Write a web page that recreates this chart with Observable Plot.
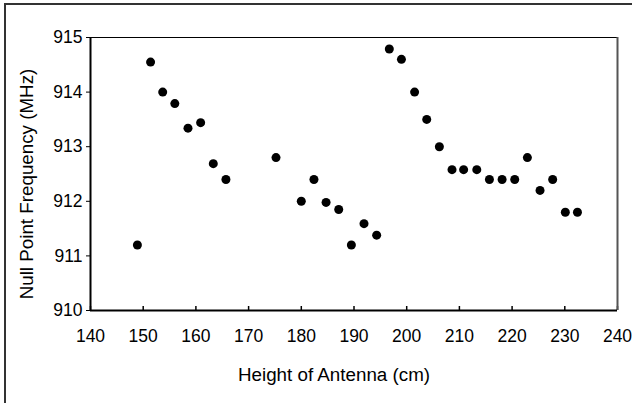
<!DOCTYPE html>
<html>
<head>
<meta charset="utf-8">
<script src="https://cdn.jsdelivr.net/npm/d3@7"></script>
<script src="https://cdn.jsdelivr.net/npm/@observablehq/plot@0.6"></script>
<style>
  html, body { margin: 0; padding: 0; background: #fff; }
  #wrap { position: relative; width: 632px; height: 403px; overflow: hidden; }
  #border { position: absolute; left: 4px; top: 3px; right: -10px; bottom: -10px;
            border-left: 2px solid #333; border-top: 2px solid #333; pointer-events: none; }
  svg { font-family: Arial, "Liberation Sans", sans-serif; }
</style>
</head>
<body>
<div id="wrap"><div id="border"></div></div>
<script>
const heights = [148.9, 151.4, 153.7, 156.0, 158.5, 160.9, 163.3, 165.7, 175.2, 180.0, 182.4, 184.7, 187.1, 189.5, 191.9, 194.3, 196.7, 199.0, 201.5, 203.8, 206.2, 208.6, 210.8, 213.3, 215.7, 218.1, 220.5, 222.9, 225.3, 227.7, 230.1, 232.4];
const freqs = [911.2, 914.55, 914.0, 913.79, 913.34, 913.44, 912.69, 912.40, 912.80, 912.0, 912.40, 911.98, 911.85, 911.2, 911.59, 911.38, 914.79, 914.6, 914.0, 913.5, 913.0, 912.58, 912.58, 912.58, 912.40, 912.4, 912.4, 912.8, 912.2, 912.4, 911.8, 911.8];
const xTicks = [140, 150, 160, 170, 180, 190, 200, 210, 220, 230, 240];
const yTicks = [910, 911, 912, 913, 914, 915];
const xDomain = [140, 240];
const yDomain = [910, 915];
const xTitle = "Height of Antenna (cm)";
const yTitle = "Null Point Frequency (MHz)";

const data = heights.map((h, i) => ({h, f: freqs[i]}));

const chart = Plot.plot({
  width: 632,
  height: 403,
  marginLeft: 90,
  marginRight: 15,
  marginTop: 37,
  marginBottom: 93,
  style: {fontFamily: "Arial, 'Liberation Sans', sans-serif", fontSize: "17.5px", color: "#000", background: "#fff"},
  x: {domain: xDomain},
  y: {domain: yDomain},
  marks: [
    Plot.axisY(yTicks, {tickSize: 4, tickPadding: 4, tickFormat: d => String(d), label: null, fontSize: 17.5}),
    Plot.axisX(xTicks, {tickSize: 0, tickPadding: 19, tickFormat: d => String(d), label: null, fontSize: 17.5}),
    Plot.tickX(xTicks, {x: d => d, insetTop: 269, stroke: "black", strokeWidth: 1.5}),
    Plot.ruleY([yDomain[1]], {stroke: "black", strokeWidth: 1}),
    Plot.ruleX([xDomain[1]], {stroke: "#555", strokeWidth: 2}),
    Plot.ruleX([xDomain[0]], {stroke: "black", strokeWidth: 2}),
    Plot.ruleY([yDomain[0]], {stroke: "black", strokeWidth: 2}),
    Plot.dot(data, {x: "h", y: "f", r: 4.5, fill: "black", stroke: "none"}),
    Plot.text([xTitle], {frameAnchor: "bottom", textAnchor: "middle", lineAnchor: "middle", dx: -20, dy: 64, fontSize: 18.8, fill: "black"}),
    Plot.text([yTitle], {frameAnchor: "left", textAnchor: "middle", lineAnchor: "middle", dx: -64, dy: 10, rotate: -90, fontSize: 18.8, fill: "black"})
  ]
});
document.getElementById("wrap").prepend(chart);
</script>
</body>
</html>
